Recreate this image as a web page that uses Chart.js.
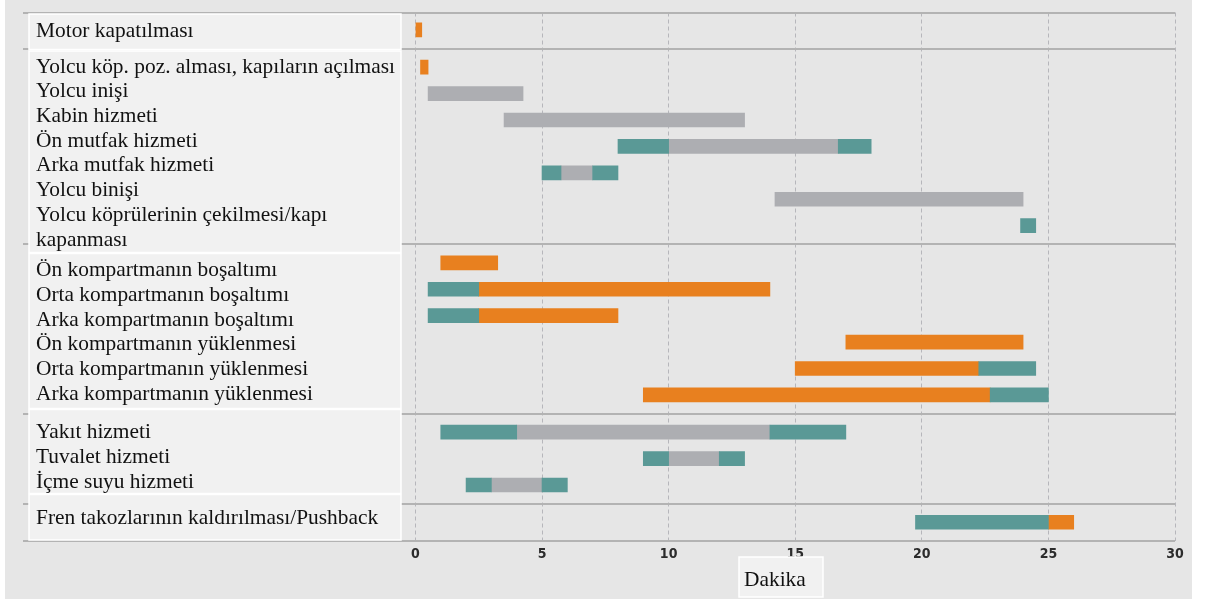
<!DOCTYPE html>
<html lang="tr">
<head>
<meta charset="utf-8">
<title>Yer hizmetleri zaman çizelgesi</title>
<script src="https://cdn.jsdelivr.net/npm/chart.js@4.4.1/dist/chart.umd.min.js"></script>
<style>
  html, body { margin: 0; padding: 0; background: #ffffff; }
  #wrap { position: relative; width: 1206px; height: 603px; }
</style>
</head>
<body>
<div id="wrap"><canvas id="c" width="1206" height="603"></canvas></div>
<script>
// Activities, top to bottom (a nested array is a label written on two lines)
const tasks = [
  'Motor kapatılması',
  'Yolcu köp. poz. alması, kapıların açılması',
  'Yolcu inişi',
  'Kabin hizmeti',
  'Ön mutfak hizmeti',
  'Arka mutfak hizmeti',
  'Yolcu binişi',
  ['Yolcu köprülerinin çekilmesi/kapı', 'kapanması'],
  'Ön kompartmanın boşaltımı',
  'Orta kompartmanın boşaltımı',
  'Arka kompartmanın boşaltımı',
  'Ön kompartmanın yüklenmesi',
  'Orta kompartmanın yüklenmesi',
  'Arka kompartmanın yüklenmesi',
  'Yakıt hizmeti',
  'Tuvalet hizmeti',
  'İçme suyu hizmeti',
  'Fren takozlarının kaldırılması/Pushback'
];

// How many consecutive activities belong to each block
const groupSizes = [1, 7, 6, 3, 1];

// Time spans in minutes: [activity index, start, end]
const tealSpans = [
  [4, 8, 10], [4, 16.7, 18],
  [5, 5, 5.75], [5, 7, 8],
  [7, 23.9, 24.5],
  [9, 0.5, 2.5],
  [10, 0.5, 2.5],
  [12, 22.25, 24.5],
  [13, 22.7, 25],
  [14, 1, 4], [14, 14, 17],
  [15, 9, 10], [15, 12, 13],
  [16, 2, 3], [16, 5, 6],
  [17, 19.75, 25]
];
const graySpans = [
  [2, 0.5, 4.25],
  [3, 3.5, 13],
  [4, 10, 16.7],
  [5, 5.75, 7],
  [6, 14.2, 24],
  [14, 4, 14],
  [15, 10, 12],
  [16, 3, 5]
];
const orangeSpans = [
  [0, 0, 0.25],
  [1, 0.2, 0.5],
  [8, 1, 3.25],
  [9, 2.5, 14],
  [10, 2.5, 8],
  [11, 17, 24],
  [12, 15, 22.25],
  [13, 9, 22.7],
  [17, 25, 26]
];

const minuteTicks = [0, 5, 10, 15, 20, 25, 30];
const axisTitle = 'Dakika';

// Row positions on the vertical scale: one unit per activity plus a small gap between blocks
const GROUP_GAP = 0.41;
const rowPos = [];
const groupStart = [];
(function () {
  let k = 0;
  groupSizes.forEach((n, gi) => {
    groupStart.push(k);
    for (let i = 0; i < n; i++) { rowPos.push(k + gi * GROUP_GAP); k++; }
  });
})();
const separators = groupStart.slice(1).map(s => (rowPos[s - 1] + rowPos[s]) / 2);
const yMin = rowPos[0] - 0.66;
const yMax = rowPos[rowPos.length - 1] + 0.70;

const toPoints = spans => spans.map(([i, a, b]) => ({ y: rowPos[i], x: [a, b] }));

const COLORS = { teal: '#5a9996', gray: '#adaeb2', orange: '#e8801f' };
const SERIF = '"Liberation Serif", "Times New Roman", serif';

// Page background
const backdrop = {
  id: 'backdrop',
  beforeDraw(chart) {
    const ctx = chart.ctx;
    ctx.save();
    ctx.fillStyle = '#ffffff';
    ctx.fillRect(0, 0, chart.width, chart.height);
    ctx.fillStyle = '#e6e6e6';
    ctx.fillRect(5, 0, 1187, 599);
    ctx.restore();
  }
};

// Activity names in one panel per block, and the axis caption
const labelPanels = {
  id: 'labelPanels',
  afterDraw(chart) {
    const ctx = chart.ctx;
    const panelLeft = 29, panelRight = 401;
    const tops = [14, 51, 253.5, 409.5, 494.5];
    const bottoms = [49.5, 252.5, 408.5, 493.5, 540];
    const firstLine = [31, 67, 270.5, 432.5, 518];
    const lineH = 24.7;
    ctx.save();
    ctx.font = '21.4px ' + SERIF;
    ctx.textBaseline = 'middle';
    ctx.textAlign = 'left';
    groupSizes.forEach((n, gi) => {
      ctx.fillStyle = '#f1f1f1';
      ctx.fillRect(panelLeft, tops[gi], panelRight - panelLeft, bottoms[gi] - tops[gi]);
      ctx.strokeStyle = '#ffffff';
      ctx.lineWidth = 1.5;
      ctx.strokeRect(panelLeft, tops[gi], panelRight - panelLeft, bottoms[gi] - tops[gi]);
      ctx.fillStyle = '#111111';
      let line = 0;
      for (let i = groupStart[gi]; i < groupStart[gi] + n; i++) {
        const parts = Array.isArray(tasks[i]) ? tasks[i] : [tasks[i]];
        parts.forEach(p => {
          ctx.fillText(p, 36, firstLine[gi] + line * lineH);
          line++;
        });
      }
    });
    // axis caption
    const bx = 739, by = 557, bw = 84, bh = 40;
    ctx.fillStyle = '#f1f1f1';
    ctx.fillRect(bx, by, bw, bh);
    ctx.strokeStyle = '#ffffff';
    ctx.lineWidth = 1.5;
    ctx.strokeRect(bx, by, bw, bh);
    ctx.fillStyle = '#111111';
    ctx.textAlign = 'left';
    ctx.fillText(axisTitle, bx + 5, by + bh / 2 + 3);
    ctx.restore();
  }
};

const barDefaults = { grouped: false, barThickness: 14, borderWidth: 0, borderSkipped: false };

new Chart(document.getElementById('c'), {
  type: 'bar',
  data: {
    datasets: [
      Object.assign({ label: 'teal', data: toPoints(tealSpans), backgroundColor: COLORS.teal }, barDefaults),
      Object.assign({ label: 'gray', data: toPoints(graySpans), backgroundColor: COLORS.gray }, barDefaults),
      Object.assign({ label: 'orange', data: toPoints(orangeSpans), backgroundColor: COLORS.orange }, barDefaults)
    ]
  },
  options: {
    indexAxis: 'y',
    responsive: false,
    animation: false,
    devicePixelRatio: 1,
    layout: { padding: { left: 23, right: 31, top: 12.5, bottom: 35.5 } },
    plugins: { legend: { display: false }, tooltip: { enabled: false } },
    scales: {
      x: {
        type: 'linear',
        position: 'bottom',
        min: -15.5,
        max: 30,
        z: 1,
        afterBuildTicks: s => { s.ticks = minuteTicks.map(v => ({ value: v })); },
        grid: { color: 'rgba(150,150,158,0.6)', lineWidth: 1, drawTicks: false },
        border: { display: false, dash: [4, 3] },
        ticks: {
          padding: 5,
          color: '#2c2c2c',
          font: { family: '"Liberation Sans Narrow", "DejaVu Sans Condensed", sans-serif', size: 14, weight: 'bold' }
        }
      },
      y: {
        type: 'linear',
        reverse: true,
        offset: false,
        min: yMin,
        max: yMax,
        afterBuildTicks: s => { s.ticks = [yMin, ...separators, yMax].map(v => ({ value: v })); },
        grid: { color: '#b3b3b3', lineWidth: 2, drawTicks: false, offset: false },
        border: { display: false },
        ticks: { display: false }
      }
    }
  },
  plugins: [backdrop, labelPanels]
});
</script>
</body>
</html>
